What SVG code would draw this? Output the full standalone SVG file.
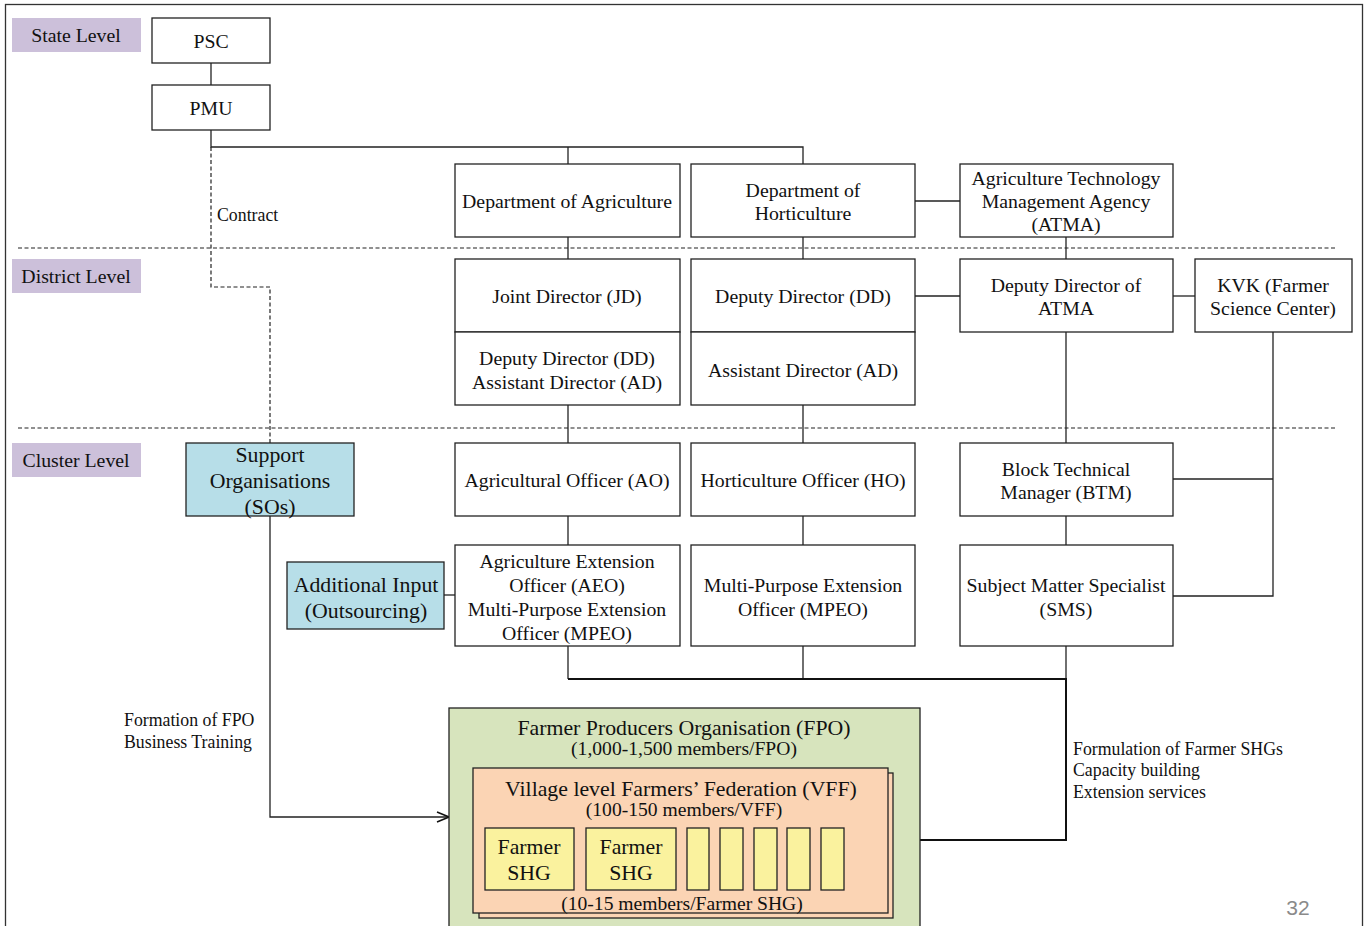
<svg xmlns="http://www.w3.org/2000/svg" width="1366" height="926" viewBox="0 0 1366 926">
<defs>
<style>
text{font-family:"Liberation Serif","Times New Roman",serif;fill:#111;text-anchor:middle}
.box{fill:#fff;stroke:#222;stroke-width:1.3}
.lvl{fill:#CCC0DA}
.lvlt{font-size:19.8px}
.t{font-size:19.8px}
.b{font-size:21.8px}
.s{font-size:19.6px}
.blue{fill:#B7DEE8;stroke:#222;stroke-width:1.3}
.ln{fill:none;stroke:#222;stroke-width:1.3}
.thick{fill:none;stroke:#111;stroke-width:2}
.dash{fill:none;stroke:#222;stroke-width:1.2;stroke-dasharray:4,2.5}
.sm{font-size:17.8px;text-anchor:start}
.shg{fill:#FAF29E;stroke:#222;stroke-width:1.3}
</style>
<marker id="arr" markerWidth="14" markerHeight="12" refX="13" refY="6" orient="auto" markerUnits="userSpaceOnUse">
<path d="M1,1 L13,6 L1,11" fill="none" stroke="#111" stroke-width="1.5"/>
</marker>
</defs>
<rect x="0" y="0" width="1366" height="926" fill="#fff"/>
<rect x="5.5" y="4.5" width="1357" height="950" fill="none" stroke="#333" stroke-width="1.3"/>

<g id="levels">
<rect class="lvl" x="12" y="18" width="129" height="34"/>
<text class="lvlt" x="76" y="42">State Level</text>
<rect class="lvl" x="12" y="259" width="129" height="34"/>
<text class="lvlt" x="76" y="283">District Level</text>
<rect class="lvl" x="12" y="443" width="129" height="34"/>
<text class="lvlt" x="76" y="467">Cluster Level</text>
<line class="dash" x1="18" y1="248" x2="1335" y2="248"/>
<line class="dash" x1="18" y1="428" x2="1335" y2="428"/>
</g>

<g id="connectors">
<line class="ln" x1="211" y1="63" x2="211" y2="85"/>
<polyline class="ln" points="211,130 211,147 803,147 803,164"/>
<line class="ln" x1="568" y1="147" x2="568" y2="164"/>
<line class="ln" x1="915" y1="201" x2="960" y2="201"/>
<line class="ln" x1="568" y1="237" x2="568" y2="259"/>
<line class="ln" x1="803" y1="237" x2="803" y2="259"/>
<line class="ln" x1="1066" y1="237" x2="1066" y2="259"/>
<line class="ln" x1="915" y1="296" x2="960" y2="296"/>
<line class="ln" x1="1173" y1="296" x2="1195" y2="296"/>
<line class="ln" x1="568" y1="405" x2="568" y2="443"/>
<line class="ln" x1="803" y1="405" x2="803" y2="443"/>
<line class="ln" x1="1066" y1="332" x2="1066" y2="443"/>
<polyline class="ln" points="1273,332 1273,596 1173,596"/>
<line class="ln" x1="1173" y1="479" x2="1273" y2="479"/>
<line class="ln" x1="568" y1="516" x2="568" y2="545"/>
<line class="ln" x1="803" y1="516" x2="803" y2="545"/>
<line class="ln" x1="1066" y1="516" x2="1066" y2="545"/>
<line class="ln" x1="444" y1="595" x2="455" y2="595"/>
<polyline class="dash" points="211,147 211,287 270,287 270,443"/>
<polyline class="ln" points="568,646 568,679"/>
<polyline class="ln" points="803,646 803,679"/>
<polyline class="ln" points="1066,646 1066,679"/>
<polyline class="thick" points="568,679 1066,679 1066,840 920,840"/>
<polyline class="ln" points="270,516 270,817 449,817" marker-end="url(#arr)"/>
<text class="sm" x="217" y="221">Contract</text>
<text class="sm" x="124" y="726">Formation of FPO</text>
<text class="sm" x="124" y="748">Business Training</text>
<text class="sm" x="1073" y="755">Formulation of Farmer SHGs</text>
<text class="sm" x="1073" y="776">Capacity building</text>
<text class="sm" x="1073" y="798">Extension services</text>
</g>

<g id="psc"><rect class="box" x="152" y="18" width="118" height="45"/><text class="t" x="211" y="48">PSC</text></g>
<g id="pmu"><rect class="box" x="152" y="85" width="118" height="45"/><text class="t" x="211" y="115">PMU</text></g>

<g id="dept-agri"><rect class="box" x="455" y="164" width="225" height="73"/><text class="t" x="567" y="208">Department of Agriculture</text></g>
<g id="dept-hort"><rect class="box" x="691" y="164" width="224" height="73"/><text class="t" x="803" y="197">Department of</text><text class="t" x="803" y="220">Horticulture</text></g>
<g id="atma"><rect class="box" x="960" y="164" width="213" height="73"/><text class="t" x="1066" y="185">Agriculture Technology</text><text class="t" x="1066" y="208">Management Agency</text><text class="t" x="1066" y="231">(ATMA)</text></g>

<g id="jd"><rect class="box" x="455" y="259" width="225" height="73"/><text class="t" x="567" y="303">Joint Director (JD)</text></g>
<g id="dd-ad-agri"><rect class="box" x="455" y="332" width="225" height="73"/><text class="t" x="567" y="365">Deputy Director (DD)</text><text class="t" x="567" y="389">Assistant Director (AD)</text></g>
<g id="dd-hort"><rect class="box" x="691" y="259" width="224" height="73"/><text class="t" x="803" y="303">Deputy Director (DD)</text></g>
<g id="ad-hort"><rect class="box" x="691" y="332" width="224" height="73"/><text class="t" x="803" y="377">Assistant Director (AD)</text></g>
<g id="dd-atma"><rect class="box" x="960" y="259" width="213" height="73"/><text class="t" x="1066" y="292">Deputy Director of</text><text class="t" x="1066" y="315">ATMA</text></g>
<g id="kvk"><rect class="box" x="1195" y="259" width="157" height="73"/><text class="t" x="1273" y="292">KVK (Farmer</text><text class="t" x="1273" y="315">Science Center)</text></g>

<g id="so"><rect class="blue" x="186" y="443" width="168" height="73"/><text class="b" x="270" y="462">Support</text><text class="b" x="270" y="488">Organisations</text><text class="b" x="270" y="514">(SOs)</text></g>
<g id="ao"><rect class="box" x="455" y="443" width="225" height="73"/><text class="t" x="567" y="487">Agricultural Officer (AO)</text></g>
<g id="ho"><rect class="box" x="691" y="443" width="224" height="73"/><text class="t" x="803" y="487">Horticulture Officer (HO)</text></g>
<g id="btm"><rect class="box" x="960" y="443" width="213" height="73"/><text class="t" x="1066" y="476">Block Technical</text><text class="t" x="1066" y="499">Manager (BTM)</text></g>

<g id="addl"><rect class="blue" x="287" y="562" width="157" height="67"/><text class="b" x="366" y="592">Additional Input</text><text class="b" x="366" y="618">(Outsourcing)</text></g>
<g id="aeo"><rect class="box" x="455" y="545" width="225" height="101"/><text class="t" x="567" y="568">Agriculture Extension</text><text class="t" x="567" y="592">Officer (AEO)</text><text class="t" x="567" y="616">Multi-Purpose Extension</text><text class="t" x="567" y="640">Officer (MPEO)</text></g>
<g id="mpeo"><rect class="box" x="691" y="545" width="224" height="101"/><text class="t" x="803" y="592">Multi-Purpose Extension</text><text class="t" x="803" y="616">Officer (MPEO)</text></g>
<g id="sms"><rect class="box" x="960" y="545" width="213" height="101"/><text class="t" x="1066" y="592">Subject Matter Specialist</text><text class="t" x="1066" y="616">(SMS)</text></g>

<g id="fpo">
<rect x="449" y="708" width="471" height="240" fill="#D7E4BD" stroke="#222" stroke-width="1.3"/>
<text class="b" x="684" y="735">Farmer Producers Organisation (FPO)</text>
<text class="s" x="684" y="755">(1,000-1,500 members/FPO)</text>
</g>
<g id="vff">
<rect x="479" y="773" width="414" height="145" fill="#FBD4B4" stroke="#222" stroke-width="1.3"/>
<rect x="473" y="768" width="415" height="145" fill="#FBD4B4" stroke="#222" stroke-width="1.3"/>
<text class="b" x="681" y="796">Village level Farmers’ Federation (VFF)</text>
<text class="s" x="684" y="816">(100-150 members/VFF)</text>
<text class="s" x="682" y="910">(10-15 members/Farmer SHG)</text>
</g>
<g id="shg1"><rect class="shg" x="485" y="828" width="89" height="62"/><text class="b" x="529" y="854">Farmer</text><text class="b" x="529" y="880">SHG</text></g>
<g id="shg2"><rect class="shg" x="586" y="828" width="90" height="62"/><text class="b" x="631" y="854">Farmer</text><text class="b" x="631" y="880">SHG</text></g>
<g id="shg-small">
<rect class="shg" x="687" y="828" width="22" height="62"/>
<rect class="shg" x="720" y="828" width="23" height="62"/>
<rect class="shg" x="754" y="828" width="23" height="62"/>
<rect class="shg" x="787" y="828" width="23" height="62"/>
<rect class="shg" x="821" y="828" width="23" height="62"/>
</g>
<text x="1298" y="915" style="font-family:'Liberation Sans',Arial,sans-serif;font-size:21px;fill:#8a8a8a">32</text>
</svg>
